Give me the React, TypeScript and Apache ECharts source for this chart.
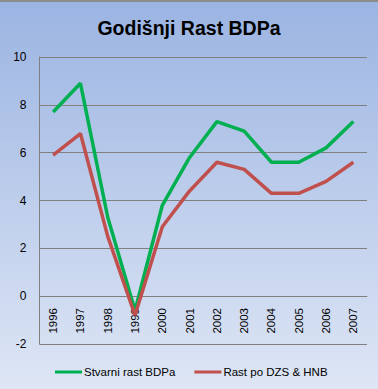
import React, { useEffect, useRef } from "react";
import * as echarts from "echarts";

const years = ["1996", "1997", "1998", "1999", "2000", "2001", "2002", "2003", "2004", "2005", "2006", "2007"];
const stvarniRast = [7.7, 8.9, 3.3, -0.6, 3.8, 5.8, 7.3, 6.9, 5.6, 5.6, 6.2, 7.3];
const rastDzsHnb = [5.9, 6.8, 2.5, -0.8, 2.9, 4.4, 5.6, 5.3, 4.3, 4.3, 4.8, 5.6];
const seriesNames = ["Stvarni rast BDPa", "Rast po DZS & HNB"];
const titleText = "Godišnji Rast BDPa";

export default function App() {
  const ref = useRef<HTMLDivElement>(null);
  useEffect(() => {
    document.body.style.margin = "0";
    const chart = echarts.init(ref.current!, null, { renderer: "svg" });
    chart.setOption({
      animation: false,
      backgroundColor: {
        type: "linear",
        x: 0, y: 0, x2: 0, y2: 1,
        colorStops: [
          { offset: 0, color: "#9bb4e2" },
          { offset: 1, color: "#dee6f5" },
        ],
      },
      title: {
        text: titleText,
        left: "center",
        top: 13,
        textStyle: { fontFamily: "Liberation Sans", fontWeight: "bold", fontSize: 19.5, color: "#000" },
      },
      graphic: [
        { type: "rect", shape: { x: 0, y: 0, width: 378, height: 2 }, style: { fill: "#8c8c8c" } },
      ],
      grid: { left: 39.5, right: 11, top: 57, bottom: 45 },
      legend: {
        bottom: 11,
        left: 55,
        padding: 0,
        icon: "rect",
        itemWidth: 27,
        itemHeight: 3,
        itemGap: 19,
        textStyle: { fontFamily: "Liberation Sans", fontSize: 11.5, color: "#000", padding: [0, 0, 0, -3] },
        data: seriesNames,
      },
      xAxis: {
        type: "category",
        data: years,
        boundaryGap: true,
        offset: -48,
        axisLine: { onZero: false, lineStyle: { color: "#808080", width: 1 } },
        axisTick: { show: false },
        axisLabel: {
          rotate: 90,
          margin: 12,
          interval: 0,
          fontFamily: "Liberation Sans",
          fontSize: 11.5,
          color: "#000",
        },
      },
      yAxis: {
        type: "value",
        min: -2,
        max: 10,
        interval: 2,
        axisLine: { show: true, lineStyle: { color: "#808080", width: 1 } },
        axisTick: { show: false },
        splitLine: { lineStyle: { color: "#808080", width: 1 } },
        axisLabel: { margin: 13, fontFamily: "Liberation Sans", fontSize: 12, color: "#000" },
      },
      series: [
        {
          name: seriesNames[0],
          type: "line",
          data: stvarniRast,
          showSymbol: false,
          symbol: "none",
          lineStyle: { color: "#00b050", width: 3.5 },
          itemStyle: { color: "#00b050" },
        },
        {
          name: seriesNames[1],
          type: "line",
          data: rastDzsHnb,
          showSymbol: false,
          symbol: "none",
          lineStyle: { color: "#c0504d", width: 3.5 },
          itemStyle: { color: "#c0504d" },
        },
      ],
    });
    return () => chart.dispose();
  }, []);
  return <div ref={ref} style={{ width: 378, height: 389 }} />;
}
